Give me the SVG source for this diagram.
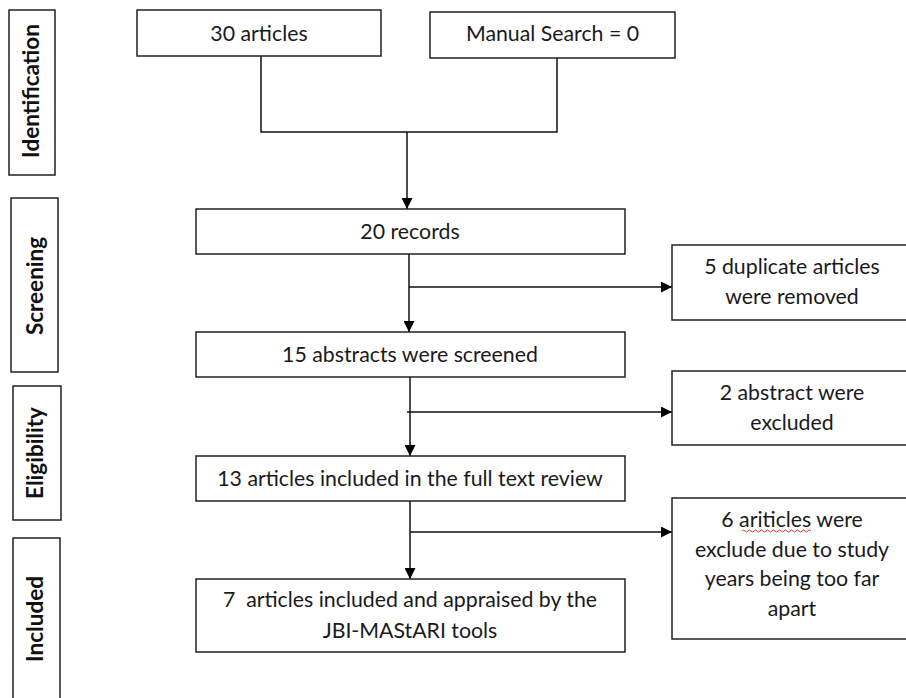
<svg xmlns="http://www.w3.org/2000/svg" width="906" height="698" viewBox="0 0 906 698">
<style>
.box{fill:#fff;stroke:#222;stroke-width:1.5}
.t{font-family:Lato,"Open Sans","Liberation Sans",sans-serif;font-size:21.3px;fill:#1a1a1a;text-anchor:middle}
.st{font-family:Lato,"Open Sans","Liberation Sans",sans-serif;font-size:22.5px;font-weight:bold;fill:#111;text-anchor:middle}
.c{fill:none;stroke:#111;stroke-width:1.5}
</style>
<defs>
<marker id="ah" markerUnits="userSpaceOnUse" markerWidth="11" markerHeight="11" refX="11" refY="5.5" orient="auto">
<path d="M0,0 L11,5.5 L0,11 z" fill="#000"/>
</marker>
</defs>
<rect width="906" height="698" fill="#fff"/>
<g id="stage-identification"><rect class="box" x="9" y="10" width="46" height="165"/><text class="st" transform="translate(39,91) rotate(-90)">Identification</text></g>
<g id="stage-screening"><rect class="box" x="11" y="198" width="47" height="174"/><text class="st" transform="translate(42.5,286) rotate(-90)">Screening</text></g>
<g id="stage-eligibility"><rect class="box" x="13" y="386" width="48" height="134"/><text class="st" transform="translate(43,453) rotate(-90)">Eligibility</text></g>
<g id="stage-included"><rect class="box" x="13" y="538" width="47" height="170"/><text class="st" transform="translate(43,619) rotate(-90)">Included</text></g>

<g id="connectors">
<path class="c" d="M261,56 V132 H557 V58"/>
<path class="c" d="M407,132 V209" marker-end="url(#ah)"/>
<path class="c" d="M409,254 V332" marker-end="url(#ah)"/>
<path class="c" d="M409,287 H672" marker-end="url(#ah)"/>
<path class="c" d="M410,377 V456" marker-end="url(#ah)"/>
<path class="c" d="M407,412 H672" marker-end="url(#ah)"/>
<path class="c" d="M410,501 V579" marker-end="url(#ah)"/>
<path class="c" d="M410,532 H672" marker-end="url(#ah)"/>
</g>

<g id="n-30"><rect class="box" x="137" y="10" width="244" height="46"/><text class="t" x="259" y="40.5">30 articles</text></g>
<g id="n-manual"><rect class="box" x="430" y="12" width="245" height="46"/><text class="t" x="552.5" y="41">Manual Search = 0</text></g>
<g id="n-20"><rect class="box" x="196" y="209" width="429" height="45"/><text class="t" x="410" y="239">20 records</text></g>
<g id="n-15"><rect class="box" x="196" y="332" width="429" height="45"/><text class="t" x="410" y="362">15 abstracts were screened</text></g>
<g id="n-13"><rect class="box" x="196" y="456" width="429" height="45"/><text class="t" x="410" y="486">13 articles included in the full text review</text></g>
<g id="n-7"><rect class="box" x="196" y="579" width="429" height="73"/><text class="t" x="410" y="607" xml:space="preserve">7  articles included and appraised by the</text><text class="t" x="410" y="638">JBI-MAStARI tools</text></g>
<g id="n-dup"><rect class="box" x="672" y="245" width="240" height="75"/><text class="t" x="792" y="274">5 duplicate articles</text><text class="t" x="792" y="304">were removed</text></g>
<g id="n-abs"><rect class="box" x="672" y="371" width="240" height="74"/><text class="t" x="792" y="400">2 abstract were</text><text class="t" x="792" y="430">excluded</text></g>
<g id="n-6"><rect class="box" x="672" y="498" width="240" height="141"/><text class="t" x="792" y="527">6 ariticles were</text><text class="t" x="792" y="556.5">exclude due to study</text><text class="t" x="792" y="586">years being too far</text><text class="t" x="792" y="615.5">apart</text>
<path d="M742,531 q1.5,-2 3,0 t3,0 t3,0 t3,0 t3,0 t3,0 t3,0 t3,0 t3,0 t3,0 t3,0 t3,0 t3,0 t3,0 t3,0 t3,0 t3,0 t3,0 t3,0 t3,0 t3,0 t3,0 t3,0" fill="none" stroke="#e03030" stroke-width="1"/></g>
</svg>
